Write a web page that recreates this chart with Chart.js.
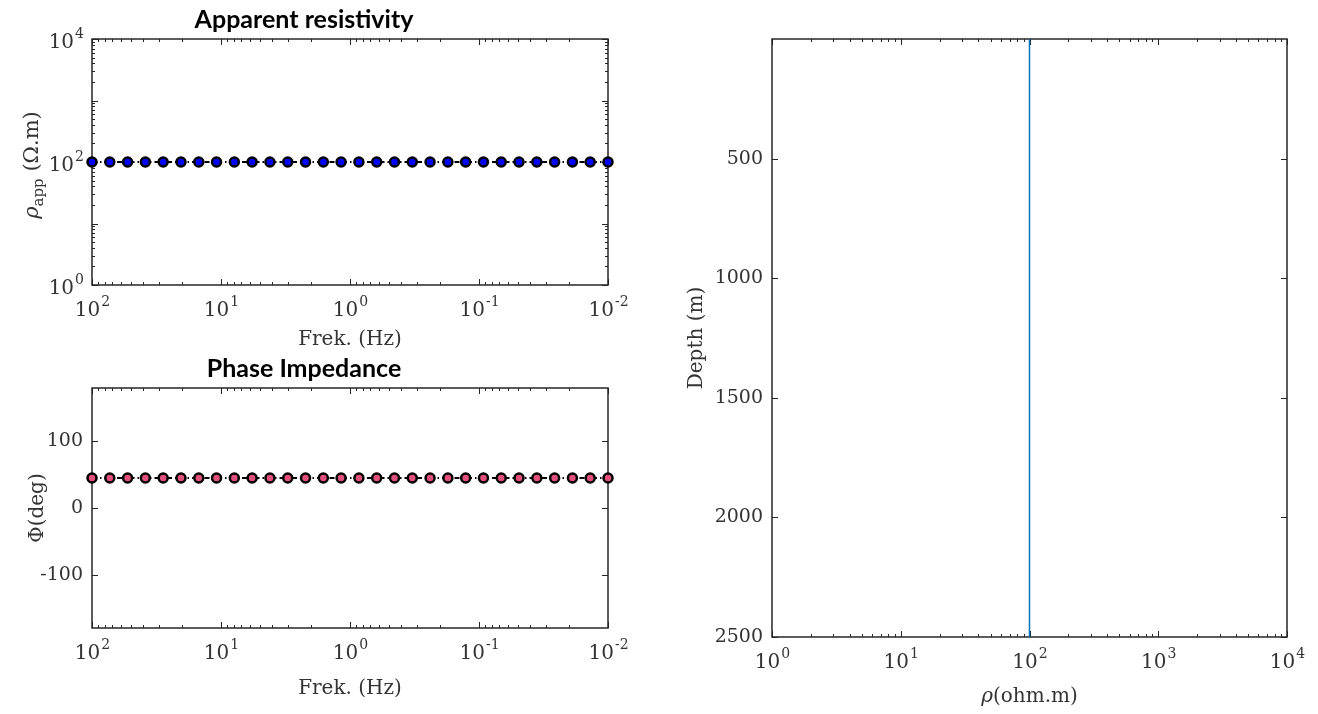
<!DOCTYPE html>
<html>
<head>
<meta charset="utf-8">
<script src="https://cdn.jsdelivr.net/npm/chart.js@4.4.1/dist/chart.umd.min.js"></script>
<style>
  body { margin: 0; background: #fff; }
  #wrap { position: relative; width: 1318px; height: 714px; overflow: hidden; }
  canvas { position: absolute; }
</style>
</head>
<body>
<div id="wrap">
  <canvas id="rhoChart" width="700" height="360" style="left:0;top:0"></canvas>
  <canvas id="phaseChart" width="700" height="369" style="left:0;top:345px"></canvas>
  <canvas id="modelChart" width="638" height="714" style="left:680px;top:0"></canvas>
</div>
<script>
// sounding data (30 frequencies, 100 Hz down to 0.01 Hz)
const freqs = [100, 72.79, 52.98, 38.57, 28.07, 20.43, 14.87, 10.83, 7.880, 5.736,
  4.175, 3.039, 2.212, 1.610, 1.172, 0.8532, 0.6210, 0.4520, 0.3290, 0.2395,
  0.1743, 0.1269, 0.09237, 0.06723, 0.04894, 0.03562, 0.02593, 0.01887, 0.01374, 0.01];
const rhoApp = [100, 100, 100, 100, 100, 100, 100, 100, 100, 100,
  100, 100, 100, 100, 100, 100, 100, 100, 100, 100,
  100, 100, 100, 100, 100, 100, 100, 100, 100, 100];
const phase = [45, 45, 45, 45, 45, 45, 45, 45, 45, 45,
  45, 45, 45, 45, 45, 45, 45, 45, 45, 45,
  45, 45, 45, 45, 45, 45, 45, 45, 45, 45];

// layered model
const modelRho = [100, 100];
const modelDepth = [0, 2500];

// tick labels
const freqTicks = [100, 10, 1, 0.1, 0.01];
const rhoTicks = [1, 100, 10000];
const phaseTicks = [-100, 0, 100];
const depthTicks = [500, 1000, 1500, 2000, 2500];
const modelRhoTicks = [1, 10, 100, 1000, 10000];

const TEXT = "#333333";
const AXIS = "#262626";
const SERIF = '"DejaVu Serif", serif';

function isDecade(v) {
  const l = Math.log10(v);
  return Math.abs(l - Math.round(l)) < 1e-9;
}

function minorValues(min, max) {
  const out = [];
  for (let e = Math.floor(Math.log10(min)); e <= Math.floor(Math.log10(max)); e++) {
    for (let k = 1; k < 10; k++) {
      const v = k * Math.pow(10, e);
      if (v >= min * 0.999999 && v <= max * 1.000001) out.push(v);
    }
  }
  return out;
}

function decadeTicks(scale) {
  scale.ticks = minorValues(scale.min, scale.max)
    .filter(isDecade)
    .map((v) => ({ value: v }));
}

function drawPower(ctx, v, x, y, align) {
  const e = String(Math.round(Math.log10(v)));
  ctx.font = "20px " + SERIF;
  const wb = ctx.measureText("10").width;
  ctx.font = "14px " + SERIF;
  const we = ctx.measureText(e).width;
  const start = align === "center" ? x - (wb + we) / 2 : x - wb - we;
  ctx.textAlign = "left";
  ctx.textBaseline = "middle";
  ctx.font = "20px " + SERIF;
  ctx.fillText("10", start, y);
  ctx.font = "14px " + SERIF;
  ctx.fillText(e, start + wb + 1, y - 9);
}

function drawRich(ctx, parts, cx, cy, vertical) {
  ctx.save();
  ctx.translate(cx, cy);
  if (vertical) ctx.rotate(-Math.PI / 2);
  ctx.textAlign = "left";
  ctx.textBaseline = "middle";
  const fontOf = (p) => (p.style || "normal") + " " + (p.size || 20) + "px " + SERIF;
  let total = 0;
  parts.forEach((p) => {
    ctx.font = fontOf(p);
    total += ctx.measureText(p.text).width;
  });
  let x = -total / 2;
  parts.forEach((p) => {
    ctx.font = fontOf(p);
    ctx.fillText(p.text, x, p.dy || 0);
    x += ctx.measureText(p.text).width;
  });
  ctx.restore();
}

// box, inward tick marks and the TeX-like labels
const framePlugin = {
  id: "frame",
  beforeDatasetsDraw(chart) {
    const { ctx, chartArea: a } = chart;
    ctx.save();
    ctx.strokeStyle = AXIS;
    ctx.lineWidth = 1;
    ["x", "y"].forEach((id) => {
      const s = chart.scales[id];
      let marks;
      if (s.type === "logarithmic") {
        marks = minorValues(s.min, s.max).map((v) => ({ v, len: isDecade(v) ? 6 : 3 }));
      } else {
        marks = s.ticks.map((t) => ({ v: t.value, len: 6 }));
      }
      ctx.beginPath();
      marks.forEach(({ v, len }) => {
        const p = Math.round(s.getPixelForValue(v)) + 0.5;
        if (s.isHorizontal()) {
          ctx.moveTo(p, a.bottom); ctx.lineTo(p, a.bottom - len);
          ctx.moveTo(p, a.top); ctx.lineTo(p, a.top + len);
        } else {
          ctx.moveTo(a.left, p); ctx.lineTo(a.left + len, p);
          ctx.moveTo(a.right, p); ctx.lineTo(a.right - len, p);
        }
      });
      ctx.stroke();
    });
    ctx.lineWidth = 1.5;
    ctx.strokeRect(a.left, a.top, a.right - a.left, a.bottom - a.top);
    ctx.restore();
  },
  afterDraw(chart, args, opts) {
    const { ctx, chartArea: a } = chart;
    ctx.save();
    ctx.fillStyle = TEXT;
    (opts.xPowers || []).forEach((v) => {
      drawPower(ctx, v, chart.scales.x.getPixelForValue(v), a.bottom + 26, "center");
    });
    (opts.yPowers || []).forEach((v) => {
      drawPower(ctx, v, a.left - 9, chart.scales.y.getPixelForValue(v) + 4, "right");
    });
    if (opts.yTitle) drawRich(ctx, opts.yTitle, opts.yTitleX, opts.yTitleY || (a.top + a.bottom) / 2, true);
    if (opts.xTitle) drawRich(ctx, opts.xTitle, (a.left + a.right) / 2, chart.height - 17, false);
    ctx.restore();
  },
};

function titleOpts(text, top, bottom) {
  return {
    display: true,
    text: text,
    color: "#000",
    font: { family: "Lato", weight: "bold", size: 25, lineHeight: 1.1 },
    padding: { top: top, bottom: bottom },
  };
}

function axisTitle(text, pad) {
  return {
    display: true,
    text: text,
    color: TEXT,
    font: { family: SERIF, size: 20, lineHeight: 1.2 },
    padding: pad,
  };
}

function freqAxis(height, bottomPad) {
  return {
    type: "logarithmic",
    position: "bottom",
    min: 0.01,
    max: 100,
    reverse: true,
    grid: { display: false, drawTicks: false },
    border: { display: false },
    ticks: { display: false },
    afterBuildTicks: decadeTicks,
    afterFit: (s) => { s.height = height; },
    title: axisTitle("Frek. (Hz)", { top: 0, bottom: bottomPad }),
  };
}

function soundingSet(values, fill) {
  return {
    data: freqs.map((f, i) => ({ x: f, y: values[i] })),
    showLine: true,
    borderColor: "#000",
    borderWidth: 2,
    borderDash: [5, 3, 1.5, 3],
    pointRadius: 4.5,
    pointBorderWidth: 2.5,
    pointBackgroundColor: fill,
    pointBorderColor: "#000",
    clip: false,
  };
}

const common = {
  responsive: false,
  animation: false,
  events: [],
};

new Chart(document.getElementById("rhoChart"), {
  type: "scatter",
  data: { datasets: [soundingSet(rhoApp, "#0000ff")] },
  options: {
    ...common,
    layout: { padding: { left: 0, right: 92, top: 0, bottom: 0 } },
    plugins: {
      legend: { display: false },
      tooltip: { enabled: false },
      title: titleOpts("Apparent resistivity", 6.5, 5),
      frame: {
        xPowers: freqTicks,
        yPowers: rhoTicks,
        yTitleX: 33,
        yTitleY: 165,
        yTitle: [
          { text: "ρ", style: "italic", size: 21 },
          { text: "app", size: 15, dy: 6 },
          { text: " (Ω.m)", size: 21 },
        ],
      },
    },
    scales: {
      x: freqAxis(75, 8.6),
      y: {
        type: "logarithmic",
        min: 1,
        max: 10000,
        grid: { display: false, drawTicks: false },
        border: { display: false },
        ticks: { display: false },
        afterBuildTicks: decadeTicks,
        afterFit: (s) => { s.width = 92; },
      },
    },
  },
  plugins: [framePlugin],
});

new Chart(document.getElementById("phaseChart"), {
  type: "scatter",
  data: { datasets: [soundingSet(phase, "#e4507c")] },
  options: {
    ...common,
    layout: { padding: { left: 0, right: 92, top: 0, bottom: 0 } },
    plugins: {
      legend: { display: false },
      tooltip: { enabled: false },
      title: titleOpts("Phase Impedance", 10.5, 5),
      frame: { xPowers: freqTicks },
    },
    scales: {
      x: freqAxis(86, 13),
      y: {
        type: "linear",
        min: -180,
        max: 180,
        grid: { display: false, drawTicks: false },
        border: { display: false },
        afterBuildTicks: (s) => { s.ticks = phaseTicks.map((v) => ({ value: v })); },
        ticks: { color: TEXT, padding: 9, font: { family: SERIF, size: 19 }, callback: (v) => String(v) },
        afterFit: (s) => { s.width = 92; },
        title: axisTitle("Φ(deg)", { top: 26, bottom: 0 }),
      },
    },
  },
  plugins: [framePlugin],
});

new Chart(document.getElementById("modelChart"), {
  type: "scatter",
  data: {
    datasets: [{
      data: modelRho.map((r, i) => ({ x: r, y: modelDepth[i] })),
      showLine: true,
      borderColor: "#0072BD",
      borderWidth: 1.5,
      pointRadius: 0,
    }],
  },
  options: {
    ...common,
    layout: { padding: { left: 0, right: 31, top: 39, bottom: 0 } },
    plugins: {
      legend: { display: false },
      tooltip: { enabled: false },
      frame: {
        xPowers: modelRhoTicks,
        xTitle: [{ text: "ρ", style: "italic" }, { text: "(ohm.m)" }],
      },
    },
    scales: {
      x: {
        type: "logarithmic",
        position: "bottom",
        min: 1,
        max: 10000,
        grid: { display: false, drawTicks: false },
        border: { display: false },
        ticks: { display: false },
        afterBuildTicks: decadeTicks,
        afterFit: (s) => { s.height = 77; },
      },
      y: {
        type: "linear",
        min: 0,
        max: 2500,
        reverse: true,
        grid: { display: false, drawTicks: false },
        border: { display: false },
        afterBuildTicks: (s) => { s.ticks = depthTicks.map((v) => ({ value: v })); },
        ticks: { color: TEXT, padding: 9, font: { family: SERIF, size: 19 }, callback: (v) => String(v) },
        afterFit: (s) => { s.width = 92; },
        title: axisTitle("Depth (m)", { top: 5, bottom: 0 }),
      },
    },
  },
  plugins: [framePlugin],
});
</script>
</body>
</html>
